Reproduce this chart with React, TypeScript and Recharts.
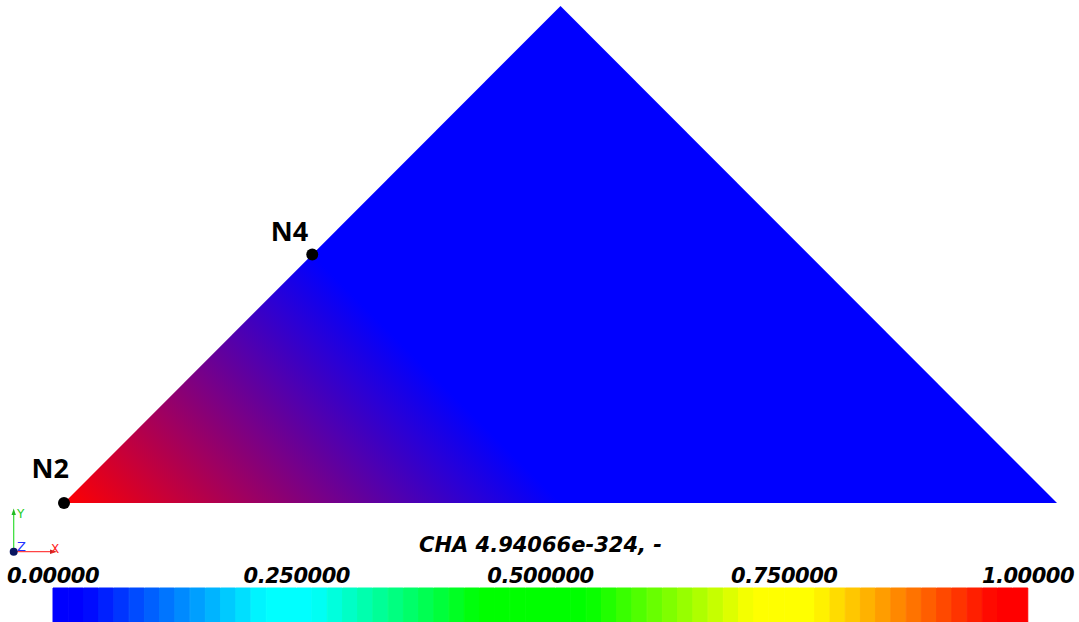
import React from 'react';
import { ComposedChart, Area, Scatter, XAxis, YAxis, BarChart, Bar, Cell, Label } from 'recharts';

// ---- data ----
const TRIANGLE_X = [0, 1, 2];
const TRIANGLE_Y = [0, 1, 0];
const NODE_NAMES = ['N2', 'N4'];
const NODE_X = [0, 0.5];
const NODE_Y = [0, 0.5];
const NODE_VALUE = [1, 0]; // CHA at node (drives the Gouraud shading)
const COLORBAR_TICKS = [0, 0.25, 0.5, 0.75, 1];
const COLORBAR_TICK_LABELS = ['0.00000', '0.250000', '0.500000', '0.750000', '1.00000'];
const COLORBAR_TITLE = 'CHA 4.94066e-324, -';
const COLORBAR_BANDS = 64;

// ---- layout / style ----
const W = 1079;
const H = 622;
const MAIN_MARGIN = { top: 6, right: 22, bottom: 119, left: 64 };
const X_DOMAIN: [number, number] = [0, 2];
const Y_DOMAIN: [number, number] = [0, 1];
const NODE_LABEL_OFFSET: Record<string, { dx: number; dy: number }> = {
  N2: { dx: 5, dy: -25 },
  N4: { dx: -4, dy: -14 },
};
const TICK_FONT = { fontFamily: '"DejaVu Sans", sans-serif', fontStyle: 'italic', fontWeight: 700, fontSize: 21, letterSpacing: -0.5 };

// colour map stops (legend styling): blue -> cyan -> green -> yellow -> red
const CMAP_STOPS: [number, [number, number, number]][] = [
  [0, [0, 0, 255]],
  [0.031, [0, 0, 255]],
  [0.219, [0, 255, 255]],
  [0.266, [0, 255, 255]],
  [0.438, [0, 255, 0]],
  [0.548, [0, 255, 0]],
  [0.718, [255, 255, 0]],
  [0.779, [255, 255, 0]],
  [0.968, [255, 0, 0]],
  [1, [255, 0, 0]],
];

function cmap(t: number): string {
  const v = Math.max(0, Math.min(1, t));
  let k = 0;
  while (k < CMAP_STOPS.length - 2 && v > CMAP_STOPS[k + 1][0]) k++;
  const [t0, c0] = CMAP_STOPS[k];
  const [t1, c1] = CMAP_STOPS[k + 1];
  const f = t1 > t0 ? (v - t0) / (t1 - t0) : 0;
  const hex = (n: number) => Math.round(n).toString(16).padStart(2, '0');
  return `#${[0, 1, 2].map((j) => hex(c0[j] + (c1[j] - c0[j]) * f)).join('')}`;
}

const plotW = W - MAIN_MARGIN.left - MAIN_MARGIN.right;
const plotH = H - MAIN_MARGIN.top - MAIN_MARGIN.bottom;
const toPxX = (x: number) => MAIN_MARGIN.left + ((x - X_DOMAIN[0]) / (X_DOMAIN[1] - X_DOMAIN[0])) * plotW;
const toPxY = (y: number) => MAIN_MARGIN.top + (1 - (y - Y_DOMAIN[0]) / (Y_DOMAIN[1] - Y_DOMAIN[0])) * plotH;

const triangleData = TRIANGLE_X.map((x, i) => ({ x, y: TRIANGLE_Y[i] }));
const nodeData = NODE_NAMES.map((name, i) => ({ name, x: NODE_X[i], y: NODE_Y[i], v: NODE_VALUE[i] }));

const bandData = Array.from({ length: COLORBAR_BANDS }, (_, i) => ({
  c: (i + 0.5) / COLORBAR_BANDS,
  one: 1,
}));

const NodeShape = (p: any) => {
  const name = p.payload?.name;
  const off = NODE_LABEL_OFFSET[name] || { dx: 0, dy: 0 };
  return (
    <g>
      <circle cx={p.cx} cy={p.cy} r={6} fill="#000" />
      <text
        x={p.cx + off.dx}
        y={p.cy + off.dy}
        textAnchor="end"
        fill="#000"
        style={{ fontFamily: '"Open Sans", sans-serif', fontWeight: 700, fontSize: 27 }}
      >
        {name}
      </text>
    </g>
  );
};

const ColorbarTick = (p: any) => {
  const idx = COLORBAR_TICKS.indexOf(p.payload?.value);
  return (
    <text x={p.x} y={53} textAnchor="middle" fill="#000" style={TICK_FONT}>
      {COLORBAR_TICK_LABELS[idx] ?? ''}
    </text>
  );
};

const TitleLabel = (p: any) => {
  const vb = p.viewBox || { x: 53, width: 975 };
  return (
    <text
      x={vb.x + vb.width / 2}
      y={22}
      textAnchor="middle"
      fill="#000"
      style={{ ...TICK_FONT, fontSize: 21, letterSpacing: 0 }}
    >
      {COLORBAR_TITLE}
    </text>
  );
};

const Triad = () => (
  <svg width={80} height={70} style={{ position: 'absolute', left: 0, top: 500 }}>
    <g transform="translate(0,-500)">
      <line x1={13.7} y1={551.7} x2={13.7} y2={514} stroke="#33dd33" strokeWidth={1.2} />
      <polygon points="11.5,515 15.9,515 13.7,508.5" fill="#22bb22" />
      <text x={17} y={518} fill="#22cc22" style={{ fontFamily: '"DejaVu Sans", sans-serif', fontSize: 12 }}>Y</text>
      <line x1={13.7} y1={551.7} x2={51} y2={551.7} stroke="#ff4444" strokeWidth={1.2} />
      <polygon points="50,549.5 50,553.9 57,551.7" fill="#cc2222" />
      <text x={51} y={553} fill="#ff2222" style={{ fontFamily: '"DejaVu Sans", sans-serif', fontSize: 12 }}>X</text>
      <text x={17} y={551} fill="#2233ff" style={{ fontFamily: '"DejaVu Sans", sans-serif', fontSize: 13 }}>Z</text>
      <circle cx={13.7} cy={551.7} r={4} fill="#0a1660" />
    </g>
  </svg>
);

export default function App() {
  const hot = nodeData[0];
  const cold = nodeData[1];
  return (
    <div style={{ position: 'fixed', left: 0, top: 0, width: W, height: H, overflow: 'hidden', background: '#fff' }}>
      <div style={{ position: 'absolute', left: 0, top: 0 }}>
        <ComposedChart width={W} height={H} data={triangleData} margin={MAIN_MARGIN}>
          <defs>
            <linearGradient
              id="chaGrad"
              gradientUnits="userSpaceOnUse"
              x1={toPxX(hot.x)}
              y1={toPxY(hot.y)}
              x2={toPxX(cold.x)}
              y2={toPxY(cold.y)}
            >
              <stop offset="0" stopColor={cmap(hot.v)} />
              <stop offset="1" stopColor={cmap(cold.v)} />
            </linearGradient>
          </defs>
          <XAxis type="number" dataKey="x" domain={X_DOMAIN} hide />
          <YAxis type="number" dataKey="y" domain={Y_DOMAIN} hide />
          <Area
            type="linear"
            dataKey="y"
            stroke="none"
            fill="url(#chaGrad)"
            fillOpacity={1}
            isAnimationActive={false}
            dot={false}
            activeDot={false}
          />
          <Scatter data={nodeData} dataKey="y" shape={NodeShape} isAnimationActive={false} />
        </ComposedChart>
      </div>
      <div style={{ position: 'absolute', left: 0, top: 530 }}>
        <BarChart
          width={W}
          height={92}
          data={bandData}
          margin={{ top: 0, right: 51, bottom: 0, left: 53 }}
          barCategoryGap={0}
          barGap={0}
        >
          <XAxis
            dataKey="c"
            type="number"
            domain={[0, 1]}
            ticks={COLORBAR_TICKS}
            orientation="top"
            height={58}
            axisLine={false}
            tickLine={false}
            tick={<ColorbarTick />}
            interval={0}
          >
            <Label content={TitleLabel} />
          </XAxis>
          <YAxis hide domain={[0, 1]} />
          <Bar dataKey="one" isAnimationActive={false}>
            {bandData.map((b, i) => (
              <Cell key={i} fill={cmap(b.c)} stroke={cmap(b.c)} strokeWidth={1} />
            ))}
          </Bar>
        </BarChart>
      </div>
      <Triad />
    </div>
  );
}
